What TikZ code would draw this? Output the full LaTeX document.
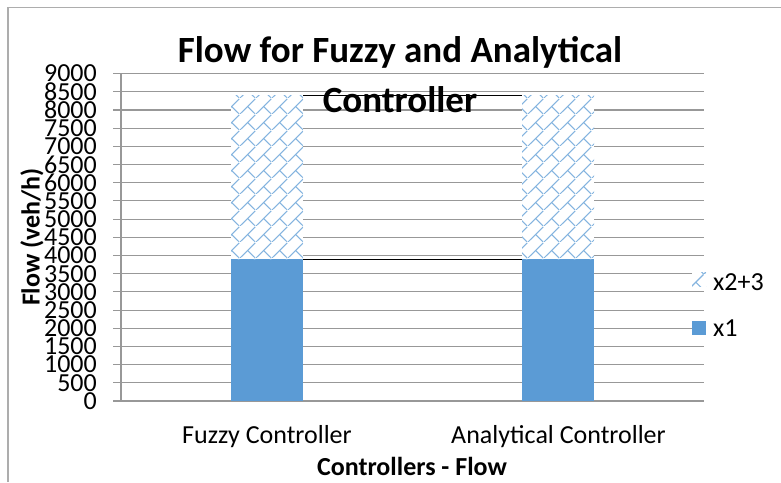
\documentclass[tikz,border=0pt]{standalone}
\usepackage{fontspec}
\setmainfont{Carlito}
\usetikzlibrary{patterns.meta}
\definecolor{barblue}{HTML}{5B9BD5}
\definecolor{gridgray}{HTML}{989898}
\definecolor{framegray}{HTML}{ADADAD}
\tikzdeclarepattern{
  name=diagbrick, type=uncolored,
  bounding box={(0pt,0pt) and (16pt,16pt)},
  tile size={(16pt,16pt)},
  code={
    \draw[line width=1.1pt] (0pt,0pt) -- (16pt,16pt);
    \draw[line width=1.1pt] (8pt,8pt) -- (16pt,0pt);
  }}
\begin{document}
\begin{tikzpicture}[x=1pt,y=-1pt]
\useasboundingbox (0,0) rectangle (781,482);
\fontsize{26}{30}\selectfont
%frame
\path[draw,framegray,line width=1.2pt] (8,482) -- (8,7.5) -- (781,7.5);
%grid and ticks
\foreach \v in {0,500,...,9000}{
    \path[draw,gridgray,line width=1.1pt] (113,401-\v*0.036378) -- (704,401-\v*0.036378);
    \node[anchor=east,inner sep=0] (tick\v) at (97,401-\v*0.036378){\v};
}
\path[draw,gridgray,line width=1.1pt] (121,73.6) -- (121,401);
%bars: x1 then x2+3 on top
\foreach \x/\n in {231/fuzzy,522/analytic}{
    \draw[draw=none,fill=barblue] (\x,401) rectangle (\x+72,259.1);
    \draw[draw=none,fill=white,postaction={pattern={diagbrick},pattern color=barblue!75}] (\x,259.1) rectangle (\x+72,95.4);
    \coordinate (\n-lowL) at (\x,259.1);
    \coordinate (\n-lowR) at (\x+72,259.1);
    \coordinate (\n-topL) at (\x,95.4);
    \coordinate (\n-topR) at (\x+72,95.4);
}
%series lines
\draw[black,line width=1pt] (fuzzy-lowR) -- (analytic-lowL);
\draw[black,line width=1pt] (fuzzy-topR) -- (analytic-topL);
%labels
\node[font=\fontsize{37}{50}\selectfont\bfseries,align=center] (title) at (400,75){Flow for Fuzzy and Analytical\\Controller};
\node[rotate=90,font=\bfseries] (ylab) at (32,237){Flow (veh/h)};
\node (fuzzyname) at (267,437){Fuzzy Controller};
\node (analyticname) at (558.5,437){Analytical Controller};
\node[font=\bfseries] (xlab) at (412,466){Controllers - Flow};
%legend
\draw[draw=none,fill=white,postaction={pattern={diagbrick},pattern color=barblue!75}] (692,272) rectangle (706,286);
\node[anchor=west,inner sep=0] (legtop) at (713,282){x2+3};
\draw[draw=none,fill=barblue] (692,321) rectangle (706,335);
\node[anchor=west,inner sep=0] (legbot) at (713,328){x1};
\end{tikzpicture}
\end{document}
